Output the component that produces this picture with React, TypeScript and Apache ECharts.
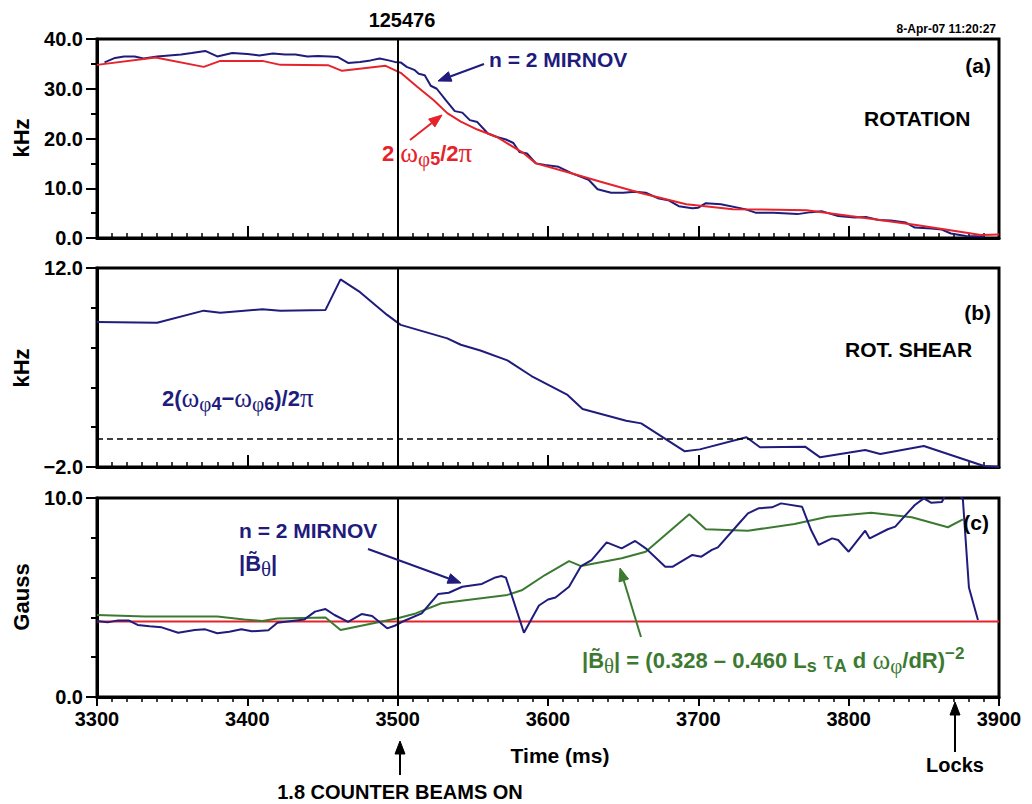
import React, { useEffect, useRef } from "react";
import * as echarts from "echarts";

// ---------- data ----------
const TIME_MIN = 3300;
const TIME_MAX = 3900;
const BEAM_ON_TIME = 3500;
const SHOT_NUMBER = "125476";
const TIMESTAMP = "8-Apr-07 11:20:27";

// (a) rotation, kHz
const rotationMirnov: [number, number][] = [
  [3305, 35.3], [3312, 36.2], [3318, 36.5], [3325, 36.5], [3331, 36.1], [3340, 36.5],
  [3348, 36.7], [3356, 36.9], [3363, 37.2], [3372, 37.6], [3380, 36.5], [3390, 37.2],
  [3400, 37.0], [3408, 36.7], [3417, 37.1], [3425, 36.9], [3432, 36.9], [3440, 36.5],
  [3447, 36.6], [3455, 36.5], [3460, 36.4], [3467, 35.2], [3475, 35.4], [3482, 35.7],
  [3488, 36.1], [3494, 35.7], [3498, 35.4], [3502, 35.3], [3506, 34.4], [3511, 33.8],
  [3514, 33.0], [3518, 32.7], [3522, 30.6], [3526, 30.0], [3532, 27.7], [3538, 25.5],
  [3543, 25.2], [3548, 23.7], [3553, 23.3], [3560, 21.0], [3566, 20.3], [3572, 19.8],
  [3577, 19.1], [3581, 17.3], [3586, 17.0], [3592, 15.0], [3598, 14.7], [3607, 14.3],
  [3616, 13.0], [3627, 11.7], [3633, 9.8], [3642, 9.1], [3650, 9.1], [3658, 9.3],
  [3665, 9.1], [3673, 8.0], [3680, 7.6], [3687, 6.4], [3696, 6.0], [3700, 6.1],
  [3705, 7.0], [3715, 6.8], [3731, 5.8], [3738, 5.1], [3750, 5.1], [3766, 4.8],
  [3775, 5.2], [3782, 5.4], [3793, 4.4], [3804, 4.1], [3812, 4.2], [3820, 3.6],
  [3828, 3.5], [3838, 3.1], [3844, 2.1], [3855, 1.9], [3862, 1.7], [3868, 0.9],
  [3878, 0.4], [3890, 0.3],
];
const rotationCER: [number, number][] = [
  [3300, 34.8], [3339, 36.3], [3371, 34.4], [3382, 35.6], [3410, 35.6], [3422, 34.8],
  [3454, 34.7], [3463, 33.6], [3492, 34.6], [3502, 33.2], [3513, 30.4], [3524, 27.7],
  [3533, 25.1], [3542, 23.4], [3553, 21.8], [3566, 20.3], [3584, 17.0], [3592, 15.0],
  [3612, 13.3], [3635, 11.3], [3661, 9.1], [3692, 6.8], [3723, 5.8], [3772, 5.6],
  [3801, 4.4], [3845, 2.6], [3888, 0.6], [3900, 0.7],
];

// (b) rotation shear, kHz
const rotationShear: [number, number][] = [
  [3300, 8.2], [3340, 8.15], [3371, 9.0], [3382, 8.85], [3410, 9.1], [3422, 9.0],
  [3452, 9.05], [3462, 11.2], [3475, 10.3], [3493, 8.7], [3502, 8.0], [3533, 7.05],
  [3542, 6.6], [3555, 6.2], [3573, 5.5], [3589, 4.4], [3613, 3.07], [3623, 2.08],
  [3652, 1.26], [3662, 1.07], [3691, -0.9], [3701, -0.76], [3732, 0.09], [3741, -0.61],
  [3771, -0.57], [3781, -1.32], [3811, -0.8], [3821, -1.09], [3850, -0.52], [3890, -1.93],
  [3900, -2.0],
];
const SHEAR_REFERENCE = 0;

// (c) mode amplitude, Gauss
const mirnovAmplitude: [number, number][] = [
  [3300, 3.82], [3307, 3.75], [3314, 3.85], [3321, 3.85], [3327, 3.62], [3335, 3.55],
  [3343, 3.5], [3354, 3.23], [3365, 3.37], [3372, 3.4], [3380, 3.2], [3388, 3.28],
  [3396, 3.4], [3403, 3.3], [3414, 3.35], [3420, 3.73], [3438, 3.9], [3445, 4.29],
  [3452, 4.42], [3458, 4.12], [3467, 3.78], [3476, 4.17], [3483, 4.07], [3493, 3.45],
  [3498, 3.58], [3503, 3.78], [3516, 4.2], [3527, 5.18], [3534, 5.24], [3543, 5.54],
  [3556, 5.68], [3565, 6.01], [3569, 6.08], [3572, 6.0], [3584, 3.23], [3594, 4.6],
  [3600, 4.9], [3605, 5.0], [3614, 5.54], [3622, 6.58], [3629, 6.88], [3639, 7.77],
  [3649, 7.47], [3658, 7.84], [3665, 7.47], [3678, 6.55], [3683, 6.55], [3696, 7.14],
  [3702, 7.05], [3709, 7.39], [3713, 7.52], [3727, 8.72], [3733, 9.23], [3740, 9.48],
  [3749, 9.53], [3755, 9.73], [3769, 9.56], [3775, 8.39], [3780, 7.64], [3789, 7.97],
  [3793, 7.89], [3800, 7.3], [3811, 8.36], [3814, 7.97], [3826, 8.43], [3831, 8.56],
  [3838, 9.15], [3844, 9.65], [3850, 9.98], [3855, 9.76], [3862, 9.8], [3866, 10.4],
  [3872, 10.4], [3876, 9.9], [3880, 5.5], [3886, 3.87],
];
const predictedAmplitude: [number, number][] = [
  [3300, 4.12], [3332, 4.04], [3380, 4.04], [3398, 3.9], [3410, 3.82], [3420, 3.94],
  [3452, 3.99], [3462, 3.37], [3500, 3.96], [3512, 4.2], [3529, 4.71], [3573, 5.13],
  [3583, 5.38], [3598, 6.13], [3614, 6.83], [3622, 6.58], [3649, 6.97], [3665, 7.3],
  [3694, 9.18], [3705, 8.43], [3733, 8.36], [3764, 8.69], [3786, 9.06], [3815, 9.26],
  [3842, 9.03], [3866, 8.53], [3876, 8.93],
];
const thresholdAmplitude: [number, number][] = [[3300, 3.8], [3900, 3.8]];

// ---------- styles ----------
const NAVY = "#1f1c7c";
const RED = "#e6232a";
const GREEN = "#3c7a32";
const SANS = '"Liberation Sans", Arial, Helvetica, sans-serif';
const SERIF = '"Liberation Serif", "Times New Roman", serif';

const GRID_LEFT = 97;
const GRID_WIDTH = 902;
const GRID_HEIGHT = 199;
const GRID_TOPS = [39, 268, 498];

function text(x: number, y: number, t: string, o: any = {}) {
  return {
    type: "text",
    x,
    y,
    z: 100,
    rotation: o.rotation || 0,
    style: {
      text: t,
      fontFamily: SANS,
      fontWeight: "bold",
      fontSize: o.fontSize || 20,
      fill: o.fill || "#000",
      align: o.align || "left",
      verticalAlign: "middle",
      rich: o.rich,
    },
  };
}

function richStyles(color: string, size = 22) {
  return {
    n: { fontFamily: SANS, fontWeight: "bold", fontSize: size, fill: color },
    g: { fontFamily: SERIF, fontSize: size + 5, fill: color },
    sg: { fontFamily: SERIF, fontSize: size - 1, fill: color, padding: [12, 0, 0, 0] },
    s: { fontFamily: SANS, fontWeight: "bold", fontSize: size - 4, fill: color, padding: [12, 0, 0, 0] },
    sup: { fontFamily: SANS, fontWeight: "bold", fontSize: size - 5, fill: color, padding: [0, 0, 14, 0] },
  };
}

function arrow(x1: number, y1: number, x2: number, y2: number, color: string) {
  const a = Math.atan2(y2 - y1, x2 - x1);
  const L = 13;
  const W = 5;
  const bx = x2 - L * Math.cos(a);
  const by = y2 - L * Math.sin(a);
  return [
    {
      type: "line",
      z: 100,
      shape: { x1, y1, x2: bx, y2: by },
      style: { stroke: color, lineWidth: 2 },
    },
    {
      type: "polygon",
      z: 100,
      shape: {
        points: [
          [x2, y2],
          [bx - W * Math.sin(a), by + W * Math.cos(a)],
          [bx + W * Math.sin(a), by - W * Math.cos(a)],
        ],
      },
      style: { fill: color, stroke: color, lineWidth: 1 },
    },
  ];
}

function fmt(v: number) {
  return v < 0 ? "\u2212" + Math.abs(v).toFixed(1) : v.toFixed(1);
}

function yAxis(gridIndex: number, min: number, max: number, interval: number, minorSplit: number) {
  return {
    gridIndex,
    type: "value",
    min,
    max,
    interval,
    axisLine: { show: true, onZero: false, lineStyle: { color: "#000", width: 3 } },
    axisTick: { show: true, inside: false, length: 11, lineStyle: { color: "#000", width: 2 } },
    minorTick: { show: true, splitNumber: minorSplit, length: 6, lineStyle: { color: "#000", width: 2 } },
    splitLine: { show: false },
    minorSplitLine: { show: false },
    axisLabel: {
      show: true,
      margin: 14,
      color: "#000",
      fontFamily: SANS,
      fontWeight: "bold",
      fontSize: 20,
      formatter: (v: number) => fmt(v),
    },
  };
}

function xAxis(gridIndex: number, showLabels: boolean) {
  return {
    gridIndex,
    type: "value",
    min: TIME_MIN,
    max: TIME_MAX,
    interval: 100,
    axisLine: { show: true, onZero: false, lineStyle: { color: "#000", width: 3 } },
    axisTick: { show: true, inside: !showLabels, length: showLabels ? 9 : 12, lineStyle: { color: "#000", width: 2 } },
    minorTick: { show: true, splitNumber: 10, length: 5, lineStyle: { color: "#000", width: 1.5 } },
    splitLine: { show: false },
    minorSplitLine: { show: false },
    axisLabel: {
      show: showLabels,
      margin: 12,
      color: "#000",
      fontFamily: SANS,
      fontWeight: "bold",
      fontSize: 20,
      formatter: (v: number) => String(v),
    },
  };
}

function beamLine(extra: any[] = []) {
  return {
    symbol: ["none", "none"],
    silent: true,
    animation: false,
    label: { show: false },
    lineStyle: { color: "#000", width: 2, type: "solid" },
    data: [{ xAxis: BEAM_ON_TIME }, ...extra],
  };
}

function lineSeries(name: string, data: [number, number][], color: string, axis: number, markLine?: any) {
  return {
    name,
    type: "line",
    xAxisIndex: axis,
    yAxisIndex: axis,
    data,
    showSymbol: false,
    symbol: "none",
    clip: true,
    lineStyle: { color, width: 2 },
    itemStyle: { color },
    z: 3,
    markLine,
  };
}

export default function App() {
  const ref = useRef<HTMLDivElement>(null);
  useEffect(() => {
    document.body.style.margin = "0";
    if (!ref.current) return;
    const chart = echarts.init(ref.current, null, { renderer: "svg" });

    const graphics: any[] = [
      text(402, 20, SHOT_NUMBER, { align: "center", fontSize: 20 }),
      text(996, 29, TIMESTAMP, { align: "right", fontSize: 12 }),
      // panel (a)
      text(489, 59, "n = 2 MIRNOV", { fill: NAVY, fontSize: 21 }),
      ...arrow(484, 64, 438, 81, NAVY),
      text(382, 153, "{n|2 }{g|\u03C9}{sg|\u03C6}{s|5}{n|/2}{g|\u03C0}", { rich: richStyles(RED) }),
      ...arrow(410, 140, 442, 115, RED),
      text(991, 65, "(a)", { align: "right", fontSize: 21 }),
      text(864, 118, "ROTATION", { fontSize: 21 }),
      // panel (b)
      text(991, 312, "(b)", { align: "right", fontSize: 21 }),
      text(845, 349, "ROT. SHEAR", { fontSize: 21 }),
      text(
        162,
        398,
        "{n|2(}{g|\u03C9}{sg|\u03C6}{s|4}{n|\u2212}{g|\u03C9}{sg|\u03C6}{s|6}{n|)/2}{g|\u03C0}",
        { rich: richStyles(NAVY) }
      ),
      // panel (c)
      text(989, 522, "(c)", { align: "right", fontSize: 21 }),
      text(239, 530, "n = 2 MIRNOV", { fill: NAVY, fontSize: 21 }),
      text(239, 563, "{n||B\u0303}{sg|\u03B8}{n||}", { rich: richStyles(NAVY) }),
      ...arrow(368, 549, 461, 583, NAVY),
      text(
        582,
        660,
        "{n||B\u0303}{sg|\u03B8}{n|| = (0.328 \u2013 0.460 L}{s|s}{n| }{g|\u03C4}{s|A}{n| d }{g|\u03C9}{sg|\u03C6}{n|/dR)}{sup|\u22122}",
        { rich: richStyles(GREEN) }
      ),
      ...arrow(641, 637, 620, 568, GREEN),
      // axis names
      text(21, 138, "kHz", { align: "center", rotation: Math.PI / 2, fontSize: 22 }),
      text(21, 368, "kHz", { align: "center", rotation: Math.PI / 2, fontSize: 22 }),
      text(21, 597, "Gauss", { align: "center", rotation: Math.PI / 2, fontSize: 22 }),
      text(560, 755, "Time (ms)", { align: "center", fontSize: 21 }),
      // bottom annotations
      ...arrow(400, 775, 400, 741, "#000"),
      text(400, 792, "1.8 COUNTER BEAMS ON", { align: "center", fontSize: 20 }),
      ...arrow(955, 752, 955, 702, "#000"),
      text(955, 765, "Locks", { align: "center", fontSize: 20 }),
    ];

    const option: any = {
      animation: false,
      backgroundColor: "#fff",
      grid: GRID_TOPS.map((top) => ({
        left: GRID_LEFT,
        top,
        width: GRID_WIDTH,
        height: GRID_HEIGHT,
        show: true,
        borderColor: "#000",
        borderWidth: 3,
        backgroundColor: "transparent",
        containLabel: false,
        outerBoundsMode: "none",
      })),
      xAxis: [xAxis(0, false), xAxis(1, false), xAxis(2, true)],
      yAxis: [yAxis(0, 0, 40, 10, 2), yAxis(1, -2, 12, 14, 5), yAxis(2, 0, 10, 10, 5)],
      series: [
        lineSeries("n=2 Mirnov rotation", rotationMirnov, NAVY, 0, beamLine()),
        lineSeries("2 omega_phi5 / 2pi", rotationCER, RED, 0),
        lineSeries(
          "rotation shear",
          rotationShear,
          NAVY,
          1,
          beamLine([{ yAxis: SHEAR_REFERENCE, lineStyle: { type: [6, 4], width: 1.5, color: "#000" } }])
        ),
        lineSeries("threshold", thresholdAmplitude, RED, 2, beamLine()),
        lineSeries("predicted amplitude", predictedAmplitude, GREEN, 2),
        lineSeries("n=2 Mirnov amplitude", mirnovAmplitude, NAVY, 2),
      ],
      graphic: { elements: graphics },
    };
    chart.setOption(option);
    return () => chart.dispose();
  }, []);
  return <div ref={ref} style={{ width: 1032, height: 804 }} />;
}
